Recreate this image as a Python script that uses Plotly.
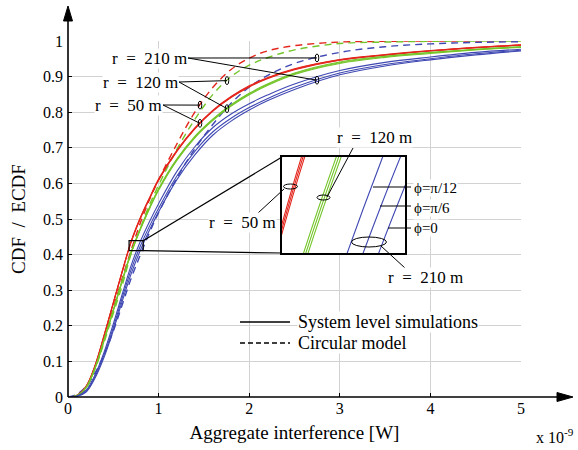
import numpy as np
import plotly.graph_objects as go

# ---------------- data ----------------
x_grid = [0, 0.1, 0.2, 0.3, 0.4, 0.5, 0.6, 0.7, 0.8, 0.9, 1.0, 1.2, 1.4, 1.6,
          1.8, 2.0, 2.2, 2.5, 3.0, 3.5, 4.0, 4.5, 5.0]  # x 1e-9 W

# system level simulations (ECDF), r = 50 m (three phi values)
red_phi0 = [0, 0.005, 0.030, 0.090, 0.175, 0.265, 0.355, 0.440, 0.505, 0.560, 0.612, 0.692,
            0.756, 0.806, 0.844, 0.874, 0.897, 0.922, 0.948, 0.962, 0.973, 0.982, 0.989]
red_phi6 = [0, 0.005, 0.030, 0.089, 0.174, 0.264, 0.354, 0.4385, 0.5035, 0.5585, 0.6105, 0.6905,
            0.7545, 0.8045, 0.8425, 0.8725, 0.8955, 0.9205, 0.947, 0.961, 0.9725, 0.9815, 0.9885]
red_phi12 = [0, 0.005, 0.029, 0.088, 0.173, 0.263, 0.353, 0.437, 0.502, 0.557, 0.609, 0.689,
             0.753, 0.803, 0.841, 0.871, 0.894, 0.919, 0.946, 0.960, 0.972, 0.981, 0.988]
# r = 120 m
green_phi0 = [0, 0.004, 0.027, 0.083, 0.163, 0.245, 0.330, 0.410, 0.475, 0.533, 0.585, 0.668,
              0.732, 0.781, 0.821, 0.853, 0.879, 0.910, 0.941, 0.957, 0.968, 0.977, 0.984]
green_phi6 = [0, 0.004, 0.026, 0.082, 0.161, 0.243, 0.328, 0.408, 0.473, 0.531, 0.583, 0.666,
              0.730, 0.779, 0.819, 0.851, 0.877, 0.908, 0.939, 0.956, 0.967, 0.976, 0.983]
green_phi12 = [0, 0.004, 0.026, 0.081, 0.159, 0.241, 0.326, 0.406, 0.471, 0.529, 0.581, 0.664,
               0.728, 0.777, 0.817, 0.849, 0.875, 0.906, 0.937, 0.954, 0.965, 0.975, 0.982]
# r = 210 m
blue_phi12 = [0, 0.003, 0.019, 0.063, 0.127, 0.205, 0.290, 0.372, 0.438, 0.493, 0.543, 0.633,
              0.703, 0.757, 0.795, 0.824, 0.848, 0.879, 0.917, 0.940, 0.955, 0.968, 0.977]
blue_phi6 = [0, 0.002, 0.016, 0.058, 0.120, 0.195, 0.280, 0.360, 0.425, 0.480, 0.530, 0.620,
             0.690, 0.745, 0.783, 0.813, 0.838, 0.870, 0.910, 0.934, 0.950, 0.964, 0.974]
blue_phi0 = [0, 0.002, 0.014, 0.054, 0.113, 0.187, 0.270, 0.348, 0.413, 0.469, 0.520, 0.610,
             0.680, 0.736, 0.775, 0.806, 0.832, 0.864, 0.905, 0.930, 0.947, 0.961, 0.972]

# circular model (CDF)
red_model = [0, 0.005, 0.028, 0.085, 0.165, 0.250, 0.335, 0.415, 0.490, 0.555, 0.610, 0.710,
             0.800, 0.870, 0.920, 0.952, 0.972, 0.987, 0.997, 0.999, 1.0, 1.0, 1.0]
green_model = [0, 0.004, 0.025, 0.080, 0.155, 0.235, 0.315, 0.405, 0.475, 0.540, 0.595, 0.695,
               0.780, 0.850, 0.900, 0.932, 0.953, 0.975, 0.993, 0.997, 0.999, 1.0, 1.0]
blue_model = [0, 0.008, 0.030, 0.068, 0.120, 0.185, 0.260, 0.335, 0.400, 0.462, 0.518, 0.614,
              0.697, 0.766, 0.825, 0.870, 0.903, 0.937, 0.968, 0.984, 0.992, 0.996, 0.998]

x_ticks = [0, 1, 2, 3, 4, 5]
y_ticks = [0, 0.1, 0.2, 0.3, 0.4, 0.5, 0.6, 0.7, 0.8, 0.9, 1.0]
y_ticktext = ["0", "0.1", "0.2", "0.3", "0.4", "0.5", "0.6", "0.7", "0.8", "0.9", "1"]

zoom_x = [0.674, 0.83]
zoom_y = [0.411, 0.439]

# ---------------- styling ----------------
RED, GREEN, BLUE = "#e3261d", "#74c52a", "#3f48b2"
FONT = "Liberation Serif"
L, R, T, B = 68, 57, 41, 53
W, H = 578 - L - R, 450 - T - B
SP = "\u2002"  # wide math-like spacing


def pp(px, py):
    """pixel -> paper"""
    return (px - L) / W, (450 - B - py) / H


def pd(px, py):
    """pixel -> main data"""
    return (px - L) / W * 5.0, (450 - B - py) / H


fig = go.Figure()

solid_sets = [(red_phi0, RED), (red_phi6, RED), (red_phi12, RED),
              (green_phi0, GREEN), (green_phi6, GREEN), (green_phi12, GREEN),
              (blue_phi12, BLUE), (blue_phi6, BLUE), (blue_phi0, BLUE)]
model_sets = [(red_model, RED), (green_model, GREEN), (blue_model, BLUE)]

for ys, c in model_sets:
    fig.add_trace(go.Scatter(x=x_grid, y=ys, mode="lines", showlegend=False,
                             line=dict(color=c, width=1.4, dash="7px,5px", shape="spline")))
for ys, c in solid_sets:
    fig.add_trace(go.Scatter(x=x_grid, y=ys, mode="lines", showlegend=False,
                             line=dict(color=c, width=1.1, shape="spline")))
# inset copies
for ys, c in solid_sets:
    fig.add_trace(go.Scatter(x=x_grid, y=ys, mode="lines", showlegend=False,
                             xaxis="x2", yaxis="y2",
                             line=dict(color=c, width=1.1, shape="spline")))

# inset placement (in main-data units)
ix0, iy1 = pd(282, 157)
ix1, iy0 = pd(405, 253)

shapes = []
# axis lines with arrows
shapes.append(dict(type="line", xref="paper", yref="paper", x0=0, y0=0, x1=0, y1=pp(0, 18)[1],
                   line=dict(color="black", width=1.6)))
shapes.append(dict(type="line", xref="paper", yref="paper", x0=0, y0=0, x1=pp(558, 0)[0], y1=0,
                   line=dict(color="black", width=1.6)))
tx, ty = pp(68, 6)
bx, by = pp(68, 21)
hw = 4.5 / W
shapes.append(dict(type="path", xref="paper", yref="paper",
                   path=f"M{tx},{ty} L{bx-hw},{by} L{bx+hw},{by} Z",
                   fillcolor="black", line=dict(color="black", width=1)))
tx, ty = pp(573, 397)
bx, by = pp(557, 397)
hh = 4.5 / H
shapes.append(dict(type="path", xref="paper", yref="paper",
                   path=f"M{tx},{ty} L{bx},{by-hh} L{bx},{by+hh} Z",
                   fillcolor="black", line=dict(color="black", width=1)))

# zoom box & connectors
shapes.append(dict(type="rect", xref="x", yref="y", x0=zoom_x[0], x1=zoom_x[1],
                   y0=zoom_y[0], y1=zoom_y[1], line=dict(color="black", width=1.2)))
shapes.append(dict(type="line", xref="x", yref="y", x0=zoom_x[1], y0=zoom_y[1], x1=ix0, y1=iy1,
                   line=dict(color="black", width=1.2)))
shapes.append(dict(type="line", xref="x", yref="y", x0=zoom_x[1], y0=zoom_y[0], x1=ix0, y1=iy0,
                   line=dict(color="black", width=1.2)))

annotations = []

# leader lines for r labels (main plot)
labels = [(f"r{SP}={SP}210 m", pd(188, 58), pd(317, 0)[0], blue_model, blue_phi6),
          (f"r{SP}={SP}120 m", pd(179, 82), pd(227, 0)[0], green_model, green_phi6),
          (f"r{SP}={SP}50 m", pd(163, 105), pd(200, 0)[0], red_model, red_phi6)]
for text, (sx, sy), ex, dash_y, sol_y in labels:
    for ys in (dash_y, sol_y):
        ey = float(np.interp(ex, x_grid, ys))
        shapes.append(dict(type="line", xref="x", yref="y", x0=sx, y0=sy, x1=ex, y1=ey,
                           line=dict(color="black", width=1)))
        shapes.append(dict(type="circle", xref="x", yref="y", xsizemode="pixel", ysizemode="pixel",
                           xanchor=ex, yanchor=ey, x0=-1.8, x1=1.8, y0=-4, y1=4,
                           line=dict(color="black", width=1)))
    annotations.append(dict(x=sx, y=sy, xref="x", yref="y", text=text, showarrow=False,
                            xanchor="right", yanchor="middle", bgcolor="white",
                            font=dict(family=FONT, size=17, color="black"), borderpad=0))


def ellipse(cx, cy, w, h):
    x0, y0 = pp(cx - w / 2, cy + h / 2)
    x1, y1 = pp(cx + w / 2, cy - h / 2)
    return dict(type="circle", xref="paper", yref="paper", x0=x0, y0=y0, x1=x1, y1=y1,
                line=dict(color="black", width=1))


def seg(p0, p1, w=1):
    a = pp(*p0)
    b = pp(*p1)
    return dict(type="line", xref="paper", yref="paper", x0=a[0], y0=a[1], x1=b[0], y1=b[1],
                line=dict(color="black", width=w))


shapes += [ellipse(290.5, 186.5, 14, 5), ellipse(323.5, 197.5, 13, 5), ellipse(369, 242, 35, 10)]
shapes += [seg((258, 213), (284, 189)), seg((327, 197), (353, 148)), seg((381, 246), (405, 268)),
           seg((373, 187), (411, 187)), seg((380, 206), (411, 206)), seg((388, 228), (411, 228))]


def ptext(px, py, text, anchor="center", size=17):
    x, y = pp(px, py)
    return dict(x=x, y=y, xref="paper", yref="paper", text=text, showarrow=False,
                xanchor=anchor, yanchor="middle", bgcolor="white", borderpad=0,
                font=dict(family=FONT, size=size, color="black"))


annotations += [ptext(277, 222, f"r{SP}={SP}50 m", "right"),
                ptext(374, 137, f"r{SP}={SP}120 m"),
                ptext(425, 277, f"r{SP}={SP}210 m"),
                ptext(413, 188, "ϕ=π/12", "left", 15),
                ptext(413, 208, "ϕ=π/6", "left", 15),
                ptext(413, 228, "ϕ=0", "left", 15)]

# legend (drawn)
shapes.append(seg((240, 322), (290, 322), 1.4))
d0 = pp(240, 343)
d1 = pp(290, 343)
shapes.append(dict(type="line", xref="paper", yref="paper", x0=d0[0], y0=d0[1], x1=d1[0], y1=d1[1],
                   line=dict(color="black", width=1.4, dash="5px,3px")))
annotations += [ptext(297, 322, "System level simulations", "left", 18),
                ptext(297, 343, "Circular model", "left", 18)]

# exponent note
annotations.append(ptext(555, 436, "x 10<sup>-9</sup>", "center", 16))

fig.update_layout(
    width=578, height=450,
    margin=dict(l=L, r=R, t=T, b=B),
    paper_bgcolor="white", plot_bgcolor="white",
    showlegend=False,
    shapes=shapes, annotations=annotations,
    font=dict(family=FONT, size=15, color="black"),
    xaxis=dict(range=[0, 5], tickvals=x_ticks, ticktext=[str(v) for v in x_ticks],
               showgrid=True, gridcolor="#d2d2d2", gridwidth=1, zeroline=False, showline=False,
               ticks="inside", ticklen=4, tickcolor="black", tickfont=dict(size=16),
               title=dict(text="Aggregate interference [W]", font=dict(size=19), standoff=9)),
    yaxis=dict(range=[0, 1], tickvals=y_ticks, ticktext=y_ticktext,
               showgrid=True, gridcolor="#d2d2d2", gridwidth=1, zeroline=False, showline=False,
               ticks="inside", ticklen=4, tickcolor="black", tickfont=dict(size=16),
               ticklabelstandoff=4,
               title=dict(text=f"CDF{SP}/{SP}ECDF", font=dict(size=19), standoff=12)),
    xaxis2=dict(domain=[ix0 / 5, ix1 / 5], anchor="y2", range=zoom_x, showgrid=False,
                zeroline=False, showticklabels=False, ticks="", showline=True, mirror=True,
                linecolor="black", linewidth=1.5),
    yaxis2=dict(domain=[iy0, iy1], anchor="x2", range=zoom_y, showgrid=False,
                zeroline=False, showticklabels=False, ticks="", showline=True, mirror=True,
                linecolor="black", linewidth=1.5),
)

fig.write_html("out.html")
